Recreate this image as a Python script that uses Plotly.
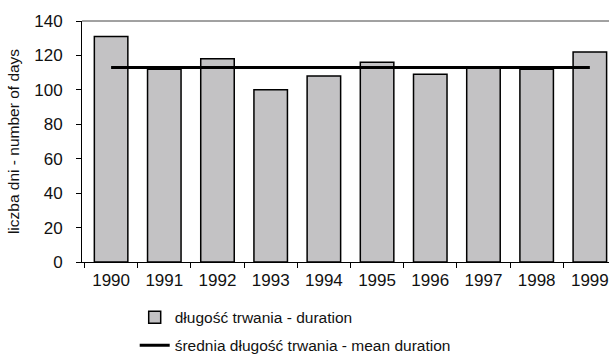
import plotly.graph_objects as go

years = ["1990", "1991", "1992", "1993", "1994", "1995", "1996", "1997", "1998", "1999"]
duration = [131, 112, 118, 100, 108, 116, 109, 113, 112, 122]
mean_duration = [113, 113, 113, 113, 113, 113, 113, 113, 113, 113]
y_ticks = [0, 20, 40, 60, 80, 100, 120, 140]

FONT = "Liberation Sans, Arial, sans-serif"

fig = go.Figure()
fig.add_trace(go.Bar(
    x=years, y=duration,
    name="długość trwania - duration", legendgroup="a",
    marker=dict(color="#c3c2c4", line=dict(color="black", width=1.5)),
))
fig.add_trace(go.Scatter(
    x=years, y=mean_duration, mode="lines",
    name="średnia długość trwania - mean duration", legendgroup="b",
    line=dict(color="black", width=3),
))

fig.update_layout(
    width=609, height=356,
    margin=dict(l=82, r=0, t=21, b=94, autoexpand=False),
    paper_bgcolor="white", plot_bgcolor="white",
    font=dict(family=FONT, size=17, color="#111"),
    bargap=0.37,
    showlegend=True,
    legend=dict(
        orientation="v", x=0.1, xanchor="left", y=-0.16, yanchor="top",
        font=dict(family=FONT, size=15.5, color="#111"),
        traceorder="grouped", tracegroupgap=5, itemwidth=30,
        bgcolor="rgba(0,0,0,0)",
    ),
    shapes=[dict(type="line", xref="paper", yref="paper", x0=0, x1=1, y0=1, y1=1,
                 line=dict(color="#444", width=1))],
)
fig.update_xaxes(
    type="category", range=[-0.547, 9.36], automargin=False,
    showline=True, linecolor="black", linewidth=1,
    ticks="outside", ticklen=5, tickcolor="black", tickson="boundaries",
    showgrid=False, ticklabelstandoff=3,
)
fig.update_yaxes(
    range=[0, 140], tickvals=y_ticks, automargin=False,
    showline=True, linecolor="black", linewidth=1,
    ticks="outside", ticklen=5, tickcolor="black",
    showgrid=False, zeroline=False, ticklabelstandoff=10,
    title=dict(text="liczba dni - number of days", font=dict(family=FONT, size=15.5), standoff=10),
)

fig.write_html("out.html", config={"displayModeBar": False},
               post_script="document.body.style.margin='0';document.body.style.overflow='hidden';")
